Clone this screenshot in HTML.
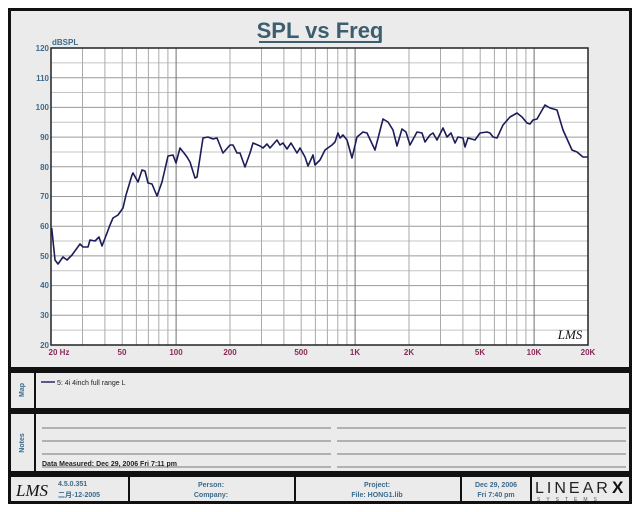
<!DOCTYPE html>
<html><head><meta charset="utf-8"><style>
html,body{margin:0;padding:0;background:#fff;}
svg{display:block;font-family:"Liberation Sans","Noto Sans CJK SC",sans-serif;}
</style></head><body>
<svg width="640" height="512" viewBox="0 0 640 512" xmlns="http://www.w3.org/2000/svg">
<rect x="0" y="0" width="640" height="512" fill="#fff"/>
<!-- chart frame -->
<rect x="9.5" y="9.5" width="621" height="359" fill="#ebebeb" stroke="#111" stroke-width="3"/>
<text x="320" y="38" text-anchor="middle" font-size="22" font-weight="bold" fill="#3d5e6e">SPL vs Freq</text>
<rect x="259" y="41" width="122" height="2" fill="#3d5e6e"/>
<rect x="51" y="48" width="537" height="297" fill="#fff"/>
<g stroke="#c4c4c4" stroke-width="1">
<line x1="51" x2="588" y1="62.85" y2="62.85"/><line x1="51" x2="588" y1="92.55" y2="92.55"/><line x1="51" x2="588" y1="122.25" y2="122.25"/><line x1="51" x2="588" y1="151.95" y2="151.95"/><line x1="51" x2="588" y1="181.65" y2="181.65"/><line x1="51" x2="588" y1="211.35" y2="211.35"/><line x1="51" x2="588" y1="241.05" y2="241.05"/><line x1="51" x2="588" y1="270.75" y2="270.75"/><line x1="51" x2="588" y1="300.45" y2="300.45"/><line x1="51" x2="588" y1="330.15" y2="330.15"/>
</g>
<g stroke="#9a9a9a" stroke-width="1">
<line x1="51" x2="588" y1="77.7" y2="77.7"/><line x1="51" x2="588" y1="107.4" y2="107.4"/><line x1="51" x2="588" y1="137.1" y2="137.1"/><line x1="51" x2="588" y1="166.8" y2="166.8"/><line x1="51" x2="588" y1="196.5" y2="196.5"/><line x1="51" x2="588" y1="226.2" y2="226.2"/><line x1="51" x2="588" y1="255.9" y2="255.9"/><line x1="51" x2="588" y1="285.6" y2="285.6"/><line x1="51" x2="588" y1="315.3" y2="315.3"/>
</g>
<g stroke="#aaaaaa" stroke-width="1">
<line y1="48" y2="345" x1="82.5" x2="82.5"/><line y1="48" y2="345" x1="104.9" x2="104.9"/><line y1="48" y2="345" x1="122.2" x2="122.2"/><line y1="48" y2="345" x1="136.4" x2="136.4"/><line y1="48" y2="345" x1="148.4" x2="148.4"/><line y1="48" y2="345" x1="158.8" x2="158.8"/><line y1="48" y2="345" x1="167.9" x2="167.9"/>
<line y1="48" y2="345" x1="230" x2="230"/><line y1="48" y2="345" x1="261.5" x2="261.5"/><line y1="48" y2="345" x1="283.9" x2="283.9"/><line y1="48" y2="345" x1="301.2" x2="301.2"/><line y1="48" y2="345" x1="315.4" x2="315.4"/><line y1="48" y2="345" x1="327.4" x2="327.4"/><line y1="48" y2="345" x1="337.8" x2="337.8"/><line y1="48" y2="345" x1="346.9" x2="346.9"/>
<line y1="48" y2="345" x1="409" x2="409"/><line y1="48" y2="345" x1="440.5" x2="440.5"/><line y1="48" y2="345" x1="462.9" x2="462.9"/><line y1="48" y2="345" x1="480.2" x2="480.2"/><line y1="48" y2="345" x1="494.4" x2="494.4"/><line y1="48" y2="345" x1="506.4" x2="506.4"/><line y1="48" y2="345" x1="516.8" x2="516.8"/><line y1="48" y2="345" x1="525.9" x2="525.9"/>
</g>
<g stroke="#707070" stroke-width="1">
<line y1="48" y2="345" x1="176.1" x2="176.1"/><line y1="48" y2="345" x1="355.1" x2="355.1"/><line y1="48" y2="345" x1="534.1" x2="534.1"/>
</g>
<rect x="51" y="48" width="537" height="297" fill="none" stroke="#222" stroke-width="1.5"/>
<polyline fill="none" stroke="#1c1c5a" stroke-width="1.6" stroke-linejoin="round" points="51.7,228 55,260 58,264 63,257 67,260 72,255 80,244 83,247 88,247 90,240 95,241 99,237 102,246 107,233 110,225 113,218 118,215 123,208 126,195 132,175 133,173 138,182 142,170 145,171 148,183 152,184 157,196 162,182 168,156 173,155 176,163 180,148 184,153 187,157 190,162 195,178 197,177 203,138 208,137 213,139 217,138 223,153 230,145 233,145 237,153 240,153 245,167 250,153 253,143 260,146 263,148 267,144 270,148 277,140 280,145 283,143 287,149 291,143 297,153 300,148 305,157 308,166 313,155 315,165 320,160 325,150 332,145 335,142 338,133 340,138 343,135 347,140 352,158 357,137 363,132 367,133 375,150 383,119 388,122 393,130 397,146 402,129 406,132 410,145 417,132 422,133 425,142 430,135 433,133 437,140 443,128 447,137 451,133 455,143 458,137 463,138 465,147 468,138 475,140 480,133 487,132 490,133 493,137 497,138 503,125 510,117 517,113 522,117 527,123 530,124 533,120 537,119 545,105 550,108 557,110 563,130 572,150 577,152 583,157 588,157"/>
<text x="570" y="339" text-anchor="middle" font-size="13" font-style="italic" fill="#111" font-family="Liberation Serif,serif">LMS</text>
<g font-size="8" font-weight="bold" fill="#3b6a8c" text-anchor="end">
<text x="49" y="51">120</text><text x="49" y="81">110</text><text x="49" y="110">100</text><text x="49" y="140">90</text><text x="49" y="170">80</text><text x="49" y="199">70</text><text x="49" y="229">60</text><text x="49" y="259">50</text><text x="49" y="288">40</text><text x="49" y="318">30</text><text x="49" y="348">20</text>
</g>
<text x="52" y="45" font-size="8" font-weight="bold" fill="#3b6a8c">dBSPL</text>
<g font-size="8" font-weight="bold" fill="#8a2a5a" text-anchor="middle">
<text x="59" y="355">20  Hz</text><text x="122" y="355">50</text><text x="176" y="355">100</text><text x="230" y="355">200</text><text x="301" y="355">500</text><text x="355" y="355">1K</text><text x="409" y="355">2K</text><text x="480" y="355">5K</text><text x="534" y="355">10K</text><text x="588" y="355">20K</text>
</g>
<!-- Map panel -->
<rect x="9.5" y="371.5" width="621" height="38" fill="#ebebeb" stroke="#111" stroke-width="3"/>
<line x1="35" y1="371" x2="35" y2="410" stroke="#111" stroke-width="2"/>
<text transform="translate(24,390) rotate(-90)" text-anchor="middle" font-size="7" font-weight="bold" fill="#3b6a8c">Map</text>
<line x1="41" y1="382" x2="55" y2="382" stroke="#2a2a6a" stroke-width="1.5"/>
<text x="57" y="385" font-size="7" fill="#222">5: 4i  4inch full range  L</text>
<!-- Notes panel -->
<rect x="9.5" y="412.5" width="621" height="60" fill="#ebebeb" stroke="#111" stroke-width="3"/>
<line x1="35" y1="412" x2="35" y2="473" stroke="#111" stroke-width="2"/>
<text transform="translate(24,443) rotate(-90)" text-anchor="middle" font-size="7" font-weight="bold" fill="#3b6a8c">Notes</text>
<g stroke="#777" stroke-width="1">
<line x1="42" x2="331" y1="428" y2="428"/><line x1="337" x2="626" y1="428" y2="428"/>
<line x1="42" x2="331" y1="441" y2="441"/><line x1="337" x2="626" y1="441" y2="441"/>
<line x1="42" x2="331" y1="454" y2="454"/><line x1="337" x2="626" y1="454" y2="454"/>
<line x1="42" x2="331" y1="467" y2="467"/><line x1="337" x2="626" y1="467" y2="467"/>
</g>
<text x="42" y="466" font-size="7" font-weight="bold" fill="#222">Data Measured: Dec 29, 2006  Fri  7:11 pm</text>
<!-- footer -->
<rect x="9.5" y="475.5" width="621" height="27" fill="#ebebeb" stroke="#111" stroke-width="3"/>
<g stroke="#111" stroke-width="2">
<line x1="129" x2="129" y1="475" y2="503"/><line x1="295" x2="295" y1="475" y2="503"/><line x1="461" x2="461" y1="475" y2="503"/><line x1="531" x2="531" y1="475" y2="503"/>
</g>
<text x="32" y="496" text-anchor="middle" font-size="17" font-style="italic" fill="#111" font-family="Liberation Serif,serif">LMS</text>
<g font-size="7" font-weight="bold" fill="#3b6a8c">
<text x="58" y="486">4.5.0.351</text><text x="58" y="497">二月-12-2005</text>
</g>
<g font-size="7" font-weight="bold" fill="#3b6a8c" text-anchor="middle">
<text x="211" y="487">Person:</text><text x="211" y="497">Company:</text>
<text x="377" y="487">Project:</text><text x="377" y="497">File: HONG1.lib</text>
<text x="496" y="487">Dec 29, 2006</text><text x="496" y="497">Fri  7:40 pm</text>
</g>
<text x="535" y="493" font-size="16" fill="#222" letter-spacing="3">LINEAR</text>
<text x="612" y="493" font-size="17" font-weight="bold" fill="#111">X</text>
<text x="537" y="501" font-size="5" fill="#555" letter-spacing="6">SYSTEMS</text>
</svg>
</body></html>
